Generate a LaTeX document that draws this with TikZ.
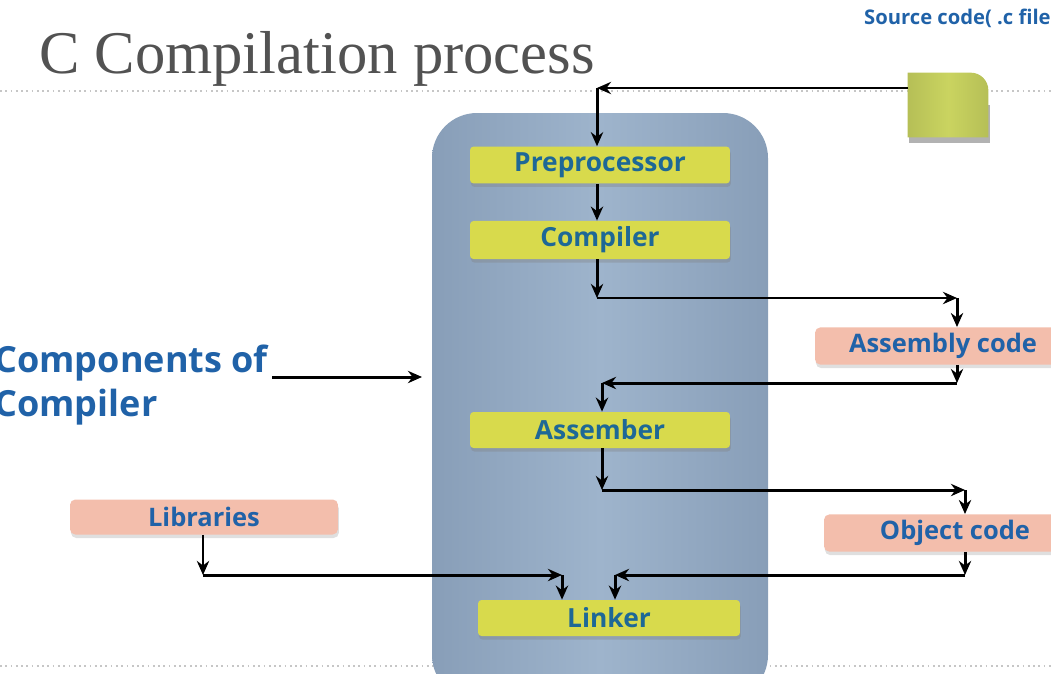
\documentclass[tikz,border=0pt]{standalone}
\usepackage{fontspec}
\usepackage{tikz}
\usetikzlibrary{arrows.meta,positioning,shadows}
\newfontfamily\boxfont{Open Sans}
\newfontfamily\titlefont{Liberation Serif}
\definecolor{stageyellow}{RGB}{216,218,76}
\definecolor{stagepink}{RGB}{243,190,172}
\definecolor{srcgreen}{RGB}{202,212,96}
\definecolor{panelblue}{RGB}{158,180,204}
\definecolor{paneldark}{RGB}{136,158,184}
\definecolor{labelblue}{RGB}{30,104,150}
\definecolor{textblue}{RGB}{32,98,168}

\begin{document}
\begin{tikzpicture}[x=0.02cm, y=-0.02cm,
    stage/.style={rectangle, fill=stageyellow, rounded corners=2pt, minimum width=5.2cm, minimum height=0.72cm,
        drop shadow={opacity=0.35, shadow xshift=0.5pt, shadow yshift=-2pt},
        font=\boxfont\bfseries\fontsize{15}{18}\selectfont, text=labelblue},
    result/.style={rectangle, fill=stagepink, rounded corners=3pt, minimum width=5.2cm, minimum height=0.7cm,
        drop shadow={opacity=0.25, shadow xshift=0.5pt, shadow yshift=-2pt},
        font=\boxfont\bfseries\fontsize{14.5}{17}\selectfont, text=textblue},
    arr/.style={line width=1.7pt, -{Stealth[length=8pt,width=7pt]}},
    rule/.style={gray!45, dotted, line width=1pt}
]
\useasboundingbox (0,0) rectangle (1051,673);

% title and dotted rules
\node[anchor=base west, font=\titlefont\fontsize{34.5}{40}\selectfont, text=black!68] (title) at (33,73) {C Compilation process};
\draw[rule] (0,91) -- (1051,91);
\draw[rule] (0,666) -- (1051,666);

% compiler panel
\shade[left color=paneldark, right color=paneldark, middle color=panelblue, rounded corners=0.9cm]
    (432,113) rectangle (768,700);
\node[inner sep=0pt, minimum width=6.72cm, minimum height=11cm, anchor=north west] (panel) at (432,113) {};

% source file
\node[minimum width=1.6cm, minimum height=1.28cm, inner sep=0pt] (src) at (948,105) {};
\fill[black!30] ([shift={(1pt,-3pt)}]src.south west) rectangle ([shift={(1pt,0pt)}]src.east);
\shade[left color=srcgreen!90!black, right color=srcgreen!90!black, middle color=srcgreen]
    (src.south west) -- (src.north west) [rounded corners=10pt] -- (src.north east) [sharp corners] -- (src.south east) -- cycle;
\node[anchor=base west, font=\boxfont\bfseries\fontsize{11.5}{14}\selectfont, text=textblue] (srclbl) at (858,24) {Source code( .c file)};

% stages
\node[stage] (pre) at (600,165) {Preprocessor};
\node[stage] (comp) at (600,240) {Compiler};
\node[stage] (asm) at (600,430) {Assember};
\node[stage, minimum width=5.24cm] (link) at (609,618) {Linker};

% outputs
\node[result, minimum width=5.12cm] (asmcode) at (943,346) {Assembly code};
\node[result, minimum width=5.24cm] (objcode) at (955,533) {Object code};
\node[result, minimum width=5.36cm] (libs) at (204,517) {Libraries};

\node[anchor=north west, align=left, font=\boxfont\bfseries\fontsize{20.5}{25}\selectfont, text=textblue, inner sep=0pt] (cmp) at (-6,345) {Components of\\Compiler};

% elbows
\coordinate (s1) at (908,88);
\coordinate (s2) at (597,88);
\coordinate (c1) at (597,298);
\coordinate (c2) at (957,298);
\coordinate (c3) at (957,383);
\coordinate (c4) at (602,383);
\coordinate (c5) at (602,490);
\coordinate (c6) at (965,490);
\coordinate (c7) at (965,575);
\coordinate (c8) at (615,575);
\coordinate (l1) at (203,575);
\coordinate (l2) at (562,575);
\coordinate (k1) at (272,377);
\coordinate (k2) at (422,377);

\draw[arr] (s1) -- (s2);
\draw[arr] (s2) -- (pre.north -| s2);
\draw[arr] (pre.south -| s2) -- (comp.north -| s2);
\draw[arr] (comp.south -| c1) -- (c1);
\draw[arr] (c1) -- (c2);
\draw[arr] (c2) -- (asmcode.north -| c2);
\draw[arr] (asmcode.south -| c3) -- (c3);
\draw[arr] (c3) -- (c4);
\draw[arr] (c4) -- (asm.north -| c4);
\draw[arr] (asm.south -| c5) -- (c5);
\draw[arr] (c5) -- (c6);
\draw[arr] (c6) -- (objcode.north -| c6);
\draw[arr] (objcode.south -| c7) -- (c7);
\draw[arr] (c7) -- (c8);
\draw[arr] (c8) -- (link.north -| c8);
\draw[arr] (libs.south -| l1) -- (l1);
\draw[arr] (l1) -- (l2);
\draw[arr] (l2) -- (link.north -| l2);
\draw[arr] (k1) -- (k2);

\end{tikzpicture}
\end{document}
